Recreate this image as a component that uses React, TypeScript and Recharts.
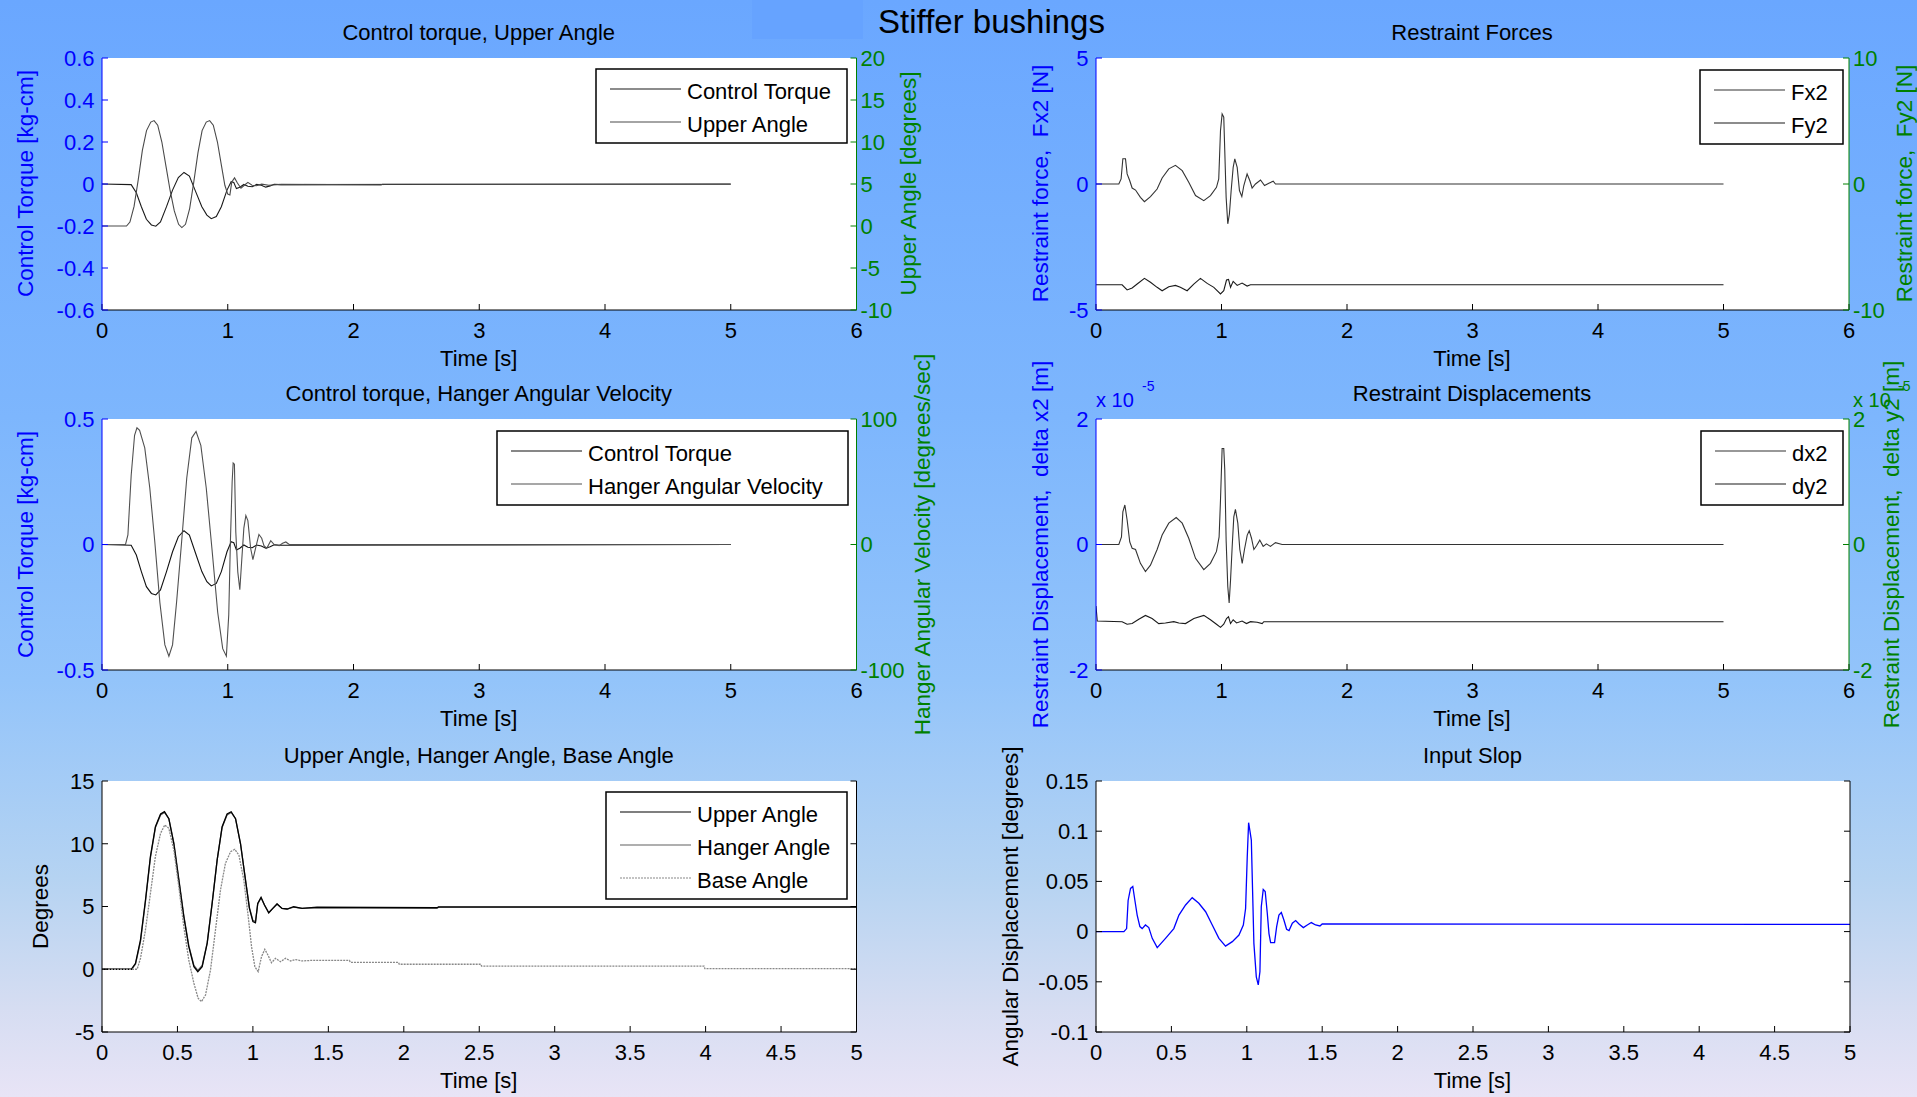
import { LineChart, Line, XAxis, YAxis, CartesianGrid } from "recharts"

const FONT = "'Liberation Sans', Arial, Helvetica, sans-serif"
const BLUE = "#0000ff"
const GREEN = "#008000"

// ---- data (time in s) ----
const torqueT = [0, 0.232, 0.273, 0.313, 0.353, 0.393, 0.428, 0.465, 0.513, 0.561, 0.607, 0.652, 0.695, 0.74, 0.794, 0.834, 0.869, 0.909, 0.949, 0.994, 1.027, 1.048, 1.069, 1.096, 1.128, 1.16, 1.195, 1.23, 1.267, 1.302, 1.337, 1.369, 1.422, 5]
const torqueV = [0, -0.003, -0.042, -0.108, -0.168, -0.195, -0.201, -0.181, -0.108, -0.029, 0.031, 0.055, 0.038, -0.029, -0.108, -0.148, -0.165, -0.155, -0.108, -0.029, 0.011, 0.007, -0.022, -0.015, -0.002, -0.011, -0.013, -0.002, -0.006, -0.015, -0.009, -0.001, -0.003, 0]

const upperAngleT = [0, 0.195, 0.222, 0.255, 0.288, 0.321, 0.354, 0.388, 0.414, 0.443, 0.476, 0.509, 0.542, 0.575, 0.609, 0.635, 0.664, 0.697, 0.73, 0.763, 0.796, 0.829, 0.856, 0.885, 0.918, 0.951, 0.977, 1.0, 1.017, 1.032, 1.054, 1.077, 1.105, 1.132, 1.16, 1.193, 1.227, 1.27, 1.326, 1.425, 2.22, 2.23, 5]
const upperAngleV = [0, 0, 0.47, 2.33, 5.5, 9.0, 11.36, 12.37, 12.55, 12.0, 10.0, 7.1, 4.2, 1.8, 0.2, -0.19, 0.2, 2.07, 5.25, 8.7, 11.36, 12.37, 12.55, 12.0, 10.0, 7.1, 4.85, 3.8, 3.7, 5.25, 5.73, 5.12, 4.5, 4.85, 5.2, 4.85, 4.8, 4.98, 4.85, 4.95, 4.9, 4.97, 4.97]

// hanger angle sits on top of the upper angle in the picture
const hangerAngleT = upperAngleT
const hangerAngleV = [0, 0, 0.4, 2.2, 5.4, 8.9, 11.3, 12.3, 12.5, 12.0, 10.1, 7.2, 4.3, 1.9, 0.3, -0.1, 0.3, 2.1, 5.3, 8.7, 11.3, 12.3, 12.5, 12.0, 10.0, 7.1, 4.9, 3.9, 3.8, 5.2, 5.7, 5.1, 4.5, 4.85, 5.2, 4.85, 4.8, 4.95, 4.85, 4.9, 4.88, 4.93, 4.93]

const baseAngleT = [0, 0.233, 0.255, 0.288, 0.321, 0.354, 0.388, 0.416, 0.443, 0.476, 0.509, 0.542, 0.575, 0.609, 0.637, 0.659, 0.686, 0.719, 0.752, 0.785, 0.818, 0.852, 0.88, 0.907, 0.94, 0.969, 0.991, 1.013, 1.035, 1.057, 1.079, 1.101, 1.123, 1.15, 1.183, 1.216, 1.25, 1.282, 1.326, 1.393, 1.64, 1.645, 1.965, 1.97, 2.51, 2.515, 3.99, 3.995, 5]
const baseAngleV = [0, 0, 0.87, 3.13, 6.05, 9.0, 10.83, 11.5, 11.23, 9.5, 6.58, 3.39, 0.74, -1.12, -2.31, -2.58, -2.05, -0.06, 3.13, 6.3, 8.44, 9.37, 9.56, 9.1, 7.1, 4.2, 1.8, 0.2, -0.19, 1.0, 1.59, 1.1, 0.52, 0.87, 0.6, 0.87, 0.66, 0.77, 0.66, 0.71, 0.7, 0.55, 0.55, 0.4, 0.4, 0.25, 0.25, 0.05, 0.05]

const hangerVelT = [0, 0.187, 0.206, 0.232, 0.259, 0.278, 0.299, 0.34, 0.38, 0.42, 0.46, 0.5, 0.532, 0.561, 0.593, 0.633, 0.674, 0.714, 0.748, 0.786, 0.829, 0.874, 0.92, 0.96, 0.989, 1.008, 1.021, 1.035, 1.043, 1.053, 1.064, 1.08, 1.096, 1.109, 1.128, 1.144, 1.16, 1.182, 1.2, 1.221, 1.248, 1.27, 1.288, 1.31, 1.342, 1.369, 1.409, 1.436, 1.462, 1.489, 5]
const hangerVelV = [0, 0, 7.6, 55, 87, 93, 91, 77, 45, 2, -46, -80, -89, -80, -46, 2, 53, 85, 90, 79, 45, -3, -54, -83, -89, -56, 2, 50, 65, 64, 10, -22, -36, -16, 13, 23, 19, -3, -12, -3, 8, 5, -1, -3, 3, 0, -1, 1, 2, 0, 0]

const fx2T = [0, 0.182, 0.2, 0.214, 0.235, 0.248, 0.269, 0.288, 0.315, 0.354, 0.386, 0.434, 0.487, 0.527, 0.58, 0.633, 0.687, 0.739, 0.793, 0.859, 0.912, 0.96, 0.978, 0.992, 1.005, 1.018, 1.026, 1.037, 1.05, 1.063, 1.077, 1.093, 1.106, 1.125, 1.143, 1.162, 1.178, 1.204, 1.226, 1.244, 1.271, 1.311, 1.343, 1.377, 1.412, 1.43, 5]
const fx2V = [0, 0, 0.2, 1.0, 1.0, 0.4, 0.13, -0.16, -0.24, -0.53, -0.7, -0.5, -0.2, 0.24, 0.6, 0.74, 0.53, 0.07, -0.46, -0.66, -0.46, -0.13, 0.2, 2.12, 2.78, 2.65, 1.33, -0.53, -1.58, -1.19, -0.26, 0.66, 1.0, 0.66, -0.26, -0.5, -0.06, 0.4, 0.13, -0.16, 0, 0.16, -0.06, 0.03, 0.11, 0, 0]

const fy2T = [0, 0.208, 0.248, 0.288, 0.328, 0.386, 0.434, 0.487, 0.527, 0.58, 0.633, 0.672, 0.726, 0.779, 0.832, 0.886, 0.939, 0.992, 1.018, 1.04, 1.056, 1.072, 1.093, 1.125, 1.164, 1.204, 1.231, 5]
const fy2V = [-8, -8, -8.41, -8.25, -7.94, -7.49, -7.8, -8.2, -8.47, -8.15, -8.05, -8.2, -8.47, -7.94, -7.49, -7.89, -8.2, -8.73, -8.47, -7.62, -7.57, -8.2, -7.73, -8.05, -7.86, -8.1, -8, -8]

// displacements in units of 1e-5 m
const dx2T = [0, 0.182, 0.203, 0.214, 0.23, 0.248, 0.269, 0.288, 0.315, 0.354, 0.394, 0.434, 0.487, 0.527, 0.58, 0.639, 0.687, 0.739, 0.793, 0.859, 0.912, 0.96, 0.981, 0.992, 1.005, 1.018, 1.026, 1.037, 1.05, 1.061, 1.072, 1.085, 1.098, 1.111, 1.13, 1.146, 1.165, 1.183, 1.205, 1.221, 1.239, 1.258, 1.279, 1.305, 1.332, 1.358, 1.39, 1.43, 1.483, 5]
const dx2V = [0, 0, 0.12, 0.52, 0.63, 0.39, 0.04, -0.06, -0.08, -0.3, -0.43, -0.33, -0.08, 0.15, 0.34, 0.43, 0.34, 0.1, -0.22, -0.4, -0.3, -0.11, 0.12, 0.71, 1.53, 1.53, 1.19, 0.06, -0.67, -0.93, -0.57, -0.04, 0.44, 0.56, 0.34, -0.08, -0.3, -0.08, 0.15, 0.22, 0.1, -0.08, -0.02, 0.07, -0.03, 0.01, -0.03, 0.03, 0, 0]

const dy2T = [0, 0.01, 0.208, 0.248, 0.288, 0.341, 0.394, 0.447, 0.5, 0.553, 0.62, 0.66, 0.713, 0.78, 0.859, 0.912, 0.96, 0.992, 1.018, 1.04, 1.056, 1.072, 1.093, 1.12, 1.164, 1.199, 1.231, 1.284, 1.324, 1.337, 5]
const dy2V = [-0.98, -1.22, -1.23, -1.27, -1.26, -1.19, -1.13, -1.18, -1.26, -1.25, -1.23, -1.25, -1.26, -1.18, -1.13, -1.2, -1.27, -1.32, -1.27, -1.18, -1.15, -1.26, -1.2, -1.25, -1.22, -1.26, -1.23, -1.24, -1.26, -1.23, -1.23]

const slopT = [0, 0.185, 0.203, 0.213, 0.229, 0.244, 0.258, 0.273, 0.291, 0.306, 0.328, 0.35, 0.373, 0.406, 0.461, 0.516, 0.55, 0.594, 0.638, 0.682, 0.727, 0.771, 0.815, 0.859, 0.904, 0.948, 0.977, 0.992, 1.003, 1.012, 1.021, 1.03, 1.038, 1.047, 1.063, 1.076, 1.087, 1.096, 1.109, 1.122, 1.136, 1.147, 1.158, 1.184, 1.198, 1.213, 1.229, 1.246, 1.264, 1.28, 1.302, 1.324, 1.346, 1.375, 1.401, 1.428, 1.456, 1.485, 1.5, 5]
const slopV = [0, 0, 0.003, 0.031, 0.043, 0.045, 0.031, 0.0165, 0.005, 0.003, 0.0066, 0.004, -0.0067, -0.016, -0.0067, 0.003, 0.0165, 0.0265, 0.0338, 0.0282, 0.0198, 0.0066, -0.0067, -0.0145, -0.01, -0.0034, 0.0066, 0.023, 0.0746, 0.1085, 0.1, 0.0912, 0.043, -0.0117, -0.045, -0.053, -0.04, 0.0248, 0.042, 0.04, 0.018, -0.002, -0.011, -0.011, 0.005, 0.0165, 0.019, 0.0116, 0.0023, 0.001, 0.0083, 0.011, 0.0076, 0.004, 0.0066, 0.009, 0.0066, 0.0056, 0.0076, 0.0072]

// tick labels
const xTicks6 = [0, 1, 2, 3, 4, 5, 6]
const xTicks5 = [0, 0.5, 1, 1.5, 2, 2.5, 3, 3.5, 4, 4.5, 5]
const torqueTicks1 = [-0.6, -0.4, -0.2, 0, 0.2, 0.4, 0.6]
const angleTicks1 = [-10, -5, 0, 5, 10, 15, 20]
const forceTicksL = [-5, 0, 5]
const forceTicksR = [-10, 0, 10]
const torqueTicks3 = [-0.5, 0, 0.5]
const velTicks = [-100, 0, 100]
const dispTicks = [-2, 0, 2]
const degTicks = [-5, 0, 5, 10, 15]
const slopTicks = [-0.1, -0.05, 0, 0.05, 0.1, 0.15]

const pts = (t: number[], v: number[]) => t.map((x, i) => ({ t: x, v: v[i] }))

type Box = { x: number; y: number; w: number; h: number }
type Ax = { domain: [number, number]; ticks: number[]; color: string; labels: boolean }
type Ser = { name: string; data: { t: number; v: number }[]; axis: string; color: string; dash?: string; width?: number }

const PAD_TOP = 30

const Panel = ({ box, xMax, xTicks, left, right, series }: { box: Box; xMax: number; xTicks: number[]; left: Ax; right: Ax; series: Ser[] }) => (
  <div style={{ position: "absolute", left: box.x - 100, top: box.y - PAD_TOP }}>
    <LineChart width={box.w + 180} height={box.h + PAD_TOP + 60} margin={{ top: PAD_TOP, right: 0, bottom: 0, left: 0 }}>
      <CartesianGrid xAxisId="b" yAxisId="l" horizontal={false} vertical={false} fill="#ffffff" fillOpacity={1} />
      <XAxis xAxisId="b" type="number" dataKey="t" domain={[0, xMax]} ticks={xTicks} interval={0} height={60}
        tickSize={-6} tickMargin={18} stroke="#000" allowDataOverflow
        tick={{ fill: "#000", fontSize: 22, fontFamily: FONT }} />
      <XAxis xAxisId="top" orientation="top" type="number" dataKey="t" domain={[0, xMax]} ticks={xTicks} interval={0} height={0}
        tickSize={-6} tickFormatter={() => ""} stroke="#000" allowDataOverflow />
      <YAxis yAxisId="l" type="number" domain={left.domain} ticks={left.ticks} interval={0} width={100}
        tickSize={-6} tickMargin={13.5} stroke={left.color} allowDataOverflow
        tick={{ fill: left.color, fontSize: 22, fontFamily: FONT }} />
      <YAxis yAxisId="r" orientation="right" type="number" domain={right.domain} ticks={right.ticks} interval={0} width={80}
        tickSize={-6} tickMargin={10} stroke={right.color} allowDataOverflow
        tickFormatter={right.labels ? undefined : () => ""}
        tick={{ fill: right.color, fontSize: 22, fontFamily: FONT }} />
      {series.map((s) => (
        <Line key={s.name} xAxisId="b" yAxisId={s.axis} data={s.data} dataKey="v" name={s.name} type="linear"
          stroke={s.color} strokeWidth={s.width ?? 1.1} strokeDasharray={s.dash} dot={false} activeDot={false}
          isAnimationActive={false} />
      ))}
    </LineChart>
  </div>
)

const b1 = { x: 101.5, y: 57.5, w: 754.5, h: 252 }
const b2 = { x: 1095.5, y: 57.5, w: 753, h: 252 }
const b3 = { x: 101.5, y: 419, w: 754.5, h: 251 }
const b4 = { x: 1095.5, y: 419, w: 753, h: 251 }
const b5 = { x: 101.5, y: 781, w: 754.5, h: 251 }
const b6 = { x: 1095.5, y: 781, w: 754, h: 251 }

const s1: Ser[] = [
  { name: "Control Torque", data: pts(torqueT, torqueV), axis: "l", color: "#1a1a1a" },
  { name: "Upper Angle", data: pts(upperAngleT, upperAngleV), axis: "r", color: "#4a4a4a" },
]
const s2: Ser[] = [
  { name: "Fx2", data: pts(fx2T, fx2V), axis: "l", color: "#333333" },
  { name: "Fy2", data: pts(fy2T, fy2V), axis: "r", color: "#1a1a1a" },
]
const s3: Ser[] = [
  { name: "Control Torque", data: pts(torqueT, torqueV), axis: "l", color: "#111111" },
  { name: "Hanger Angular Velocity", data: pts(hangerVelT, hangerVelV), axis: "r", color: "#505050" },
]
const s4: Ser[] = [
  { name: "dx2", data: pts(dx2T, dx2V), axis: "l", color: "#333333" },
  { name: "dy2", data: pts(dy2T, dy2V), axis: "r", color: "#1a1a1a" },
]
const s5: Ser[] = [
  { name: "Hanger Angle", data: pts(hangerAngleT, hangerAngleV), axis: "l", color: "#606060", width: 1.3 },
  { name: "Upper Angle", data: pts(upperAngleT, upperAngleV), axis: "l", color: "#000000", width: 1.3 },
  { name: "Base Angle", data: pts(baseAngleT, baseAngleV), axis: "l", color: "#888888", dash: "2 1", width: 1.3 },
]
const s6: Ser[] = [
  { name: "Input Slop", data: pts(slopT, slopV), axis: "l", color: "#0000ff", width: 1.3 },
]

const legends = [
  { x: 596, y: 69, w: 251, items: [s1[0], s1[1]] },
  { x: 1700, y: 70, w: 143, items: [s2[0], s2[1]] },
  { x: 497, y: 431, w: 351, items: [s3[0], s3[1]] },
  { x: 1701, y: 431, w: 142, items: [s4[0], s4[1]] },
  { x: 606, y: 792, w: 241, items: [s5[1], s5[0], s5[2]] },
]

const titles = [
  { b: b1, text: "Control torque, Upper Angle" },
  { b: b2, text: "Restraint Forces" },
  { b: b3, text: "Control torque, Hanger Angular Velocity" },
  { b: b4, text: "Restraint Displacements" },
  { b: b5, text: "Upper Angle, Hanger Angle, Base Angle" },
  { b: b6, text: "Input Slop" },
]

const yLabels = [
  { x: 33, b: b1, text: "Control Torque [kg-cm]", color: BLUE },
  { x: 916, b: b1, text: "Upper Angle [degrees]", color: GREEN },
  { x: 1048, b: b2, text: "Restraint force,  Fx2 [N]", color: BLUE },
  { x: 1912, b: b2, text: "Restraint force,  Fy2 [N]", color: GREEN },
  { x: 33, b: b3, text: "Control Torque [kg-cm]", color: BLUE },
  { x: 930, b: b3, text: "Hanger Angular Velocity [degrees/sec]", color: GREEN },
  { x: 1048, b: b4, text: "Restraint Displacement,  delta x2 [m]", color: BLUE },
  { x: 1899, b: b4, text: "Restraint Displacement,  delta y2 [m]", color: GREEN },
  { x: 48, b: b5, text: "Degrees", color: "#000" },
  { x: 1018, b: b6, text: "Angular Displacement [degrees]", color: "#000" },
]

const App = () => {
  return (
    <div style={{ position: "absolute", left: 0, top: 0, width: 1917, height: 1097, overflow: "hidden",
      background: "linear-gradient(to bottom, #6aa7ff 0%, #7db6fd 38%, #93c4fa 62%, #b5d3f2 80%, #d6ddf2 92%, #e8e4f6 100%)" }}>
      <div style={{ position: "absolute", left: 752, top: 0, width: 111, height: 39, background: "#66a3ff" }} />
      <Panel box={b1} xMax={6} xTicks={xTicks6} series={s1}
        left={{ domain: [-0.6, 0.6], ticks: torqueTicks1, color: BLUE, labels: true }}
        right={{ domain: [-10, 20], ticks: angleTicks1, color: GREEN, labels: true }} />
      <Panel box={b2} xMax={6} xTicks={xTicks6} series={s2}
        left={{ domain: [-5, 5], ticks: forceTicksL, color: BLUE, labels: true }}
        right={{ domain: [-10, 10], ticks: forceTicksR, color: GREEN, labels: true }} />
      <Panel box={b3} xMax={6} xTicks={xTicks6} series={s3}
        left={{ domain: [-0.5, 0.5], ticks: torqueTicks3, color: BLUE, labels: true }}
        right={{ domain: [-100, 100], ticks: velTicks, color: GREEN, labels: true }} />
      <Panel box={b4} xMax={6} xTicks={xTicks6} series={s4}
        left={{ domain: [-2, 2], ticks: dispTicks, color: BLUE, labels: true }}
        right={{ domain: [-2, 2], ticks: dispTicks, color: GREEN, labels: true }} />
      <Panel box={b5} xMax={5} xTicks={xTicks5} series={s5}
        left={{ domain: [-5, 15], ticks: degTicks, color: "#000", labels: true }}
        right={{ domain: [-5, 15], ticks: degTicks, color: "#000", labels: false }} />
      <Panel box={b6} xMax={5} xTicks={xTicks5} series={s6}
        left={{ domain: [-0.1, 0.15], ticks: slopTicks, color: "#000", labels: true }}
        right={{ domain: [-0.1, 0.15], ticks: slopTicks, color: "#000", labels: false }} />

      <svg width={1917} height={1097} style={{ position: "absolute", left: 0, top: 0, pointerEvents: "none" }}
        fontFamily={FONT}>
        <text x={991.5} y={32.5} fontSize={33} textAnchor="middle" fill="#000">Stiffer bushings</text>
        {titles.map((t) => (
          <g key={t.text}>
            <text x={t.b.x + t.b.w / 2} y={t.b.y - 18} fontSize={22} textAnchor="middle" fill="#000">{t.text}</text>
            <text x={t.b.x + t.b.w / 2} y={t.b.y + t.b.h + 56} fontSize={22} textAnchor="middle" fill="#000">Time [s]</text>
          </g>
        ))}
        {yLabels.map((l) => (
          <text key={l.text + l.x} transform={`translate(${l.x},${l.b.y + l.b.h / 2}) rotate(-90)`} fontSize={22.5}
            textAnchor="middle" fill={l.color} style={{ whiteSpace: "pre" }}>{l.text}</text>
        ))}
        <text x={1096} y={407} fontSize={20} fill={BLUE}>x 10</text>
        <text x={1142} y={391} fontSize={14} fill={BLUE}>-5</text>
        <text x={1853} y={407} fontSize={20} fill={GREEN}>x 10</text>
        <text x={1898} y={391} fontSize={14} fill={GREEN}>-5</text>
        {legends.map((lg) => (
          <g key={lg.x + "-" + lg.y}>
            <rect x={lg.x} y={lg.y} width={lg.w} height={41 + 33 * (lg.items.length - 1)} fill="#fff" stroke="#000" strokeWidth={1.5} />
            {lg.items.map((it, i) => (
              <g key={it.name}>
                <line x1={lg.x + 14} x2={lg.x + 85} y1={lg.y + 20 + 33 * i} y2={lg.y + 20 + 33 * i}
                  stroke={it.color} strokeWidth={1.2} strokeDasharray={it.dash} />
                <text x={lg.x + 91} y={lg.y + 29.5 + 33 * i} fontSize={22} fill="#000">{it.name}</text>
              </g>
            ))}
          </g>
        ))}
      </svg>
    </div>
  )
}

export default App
